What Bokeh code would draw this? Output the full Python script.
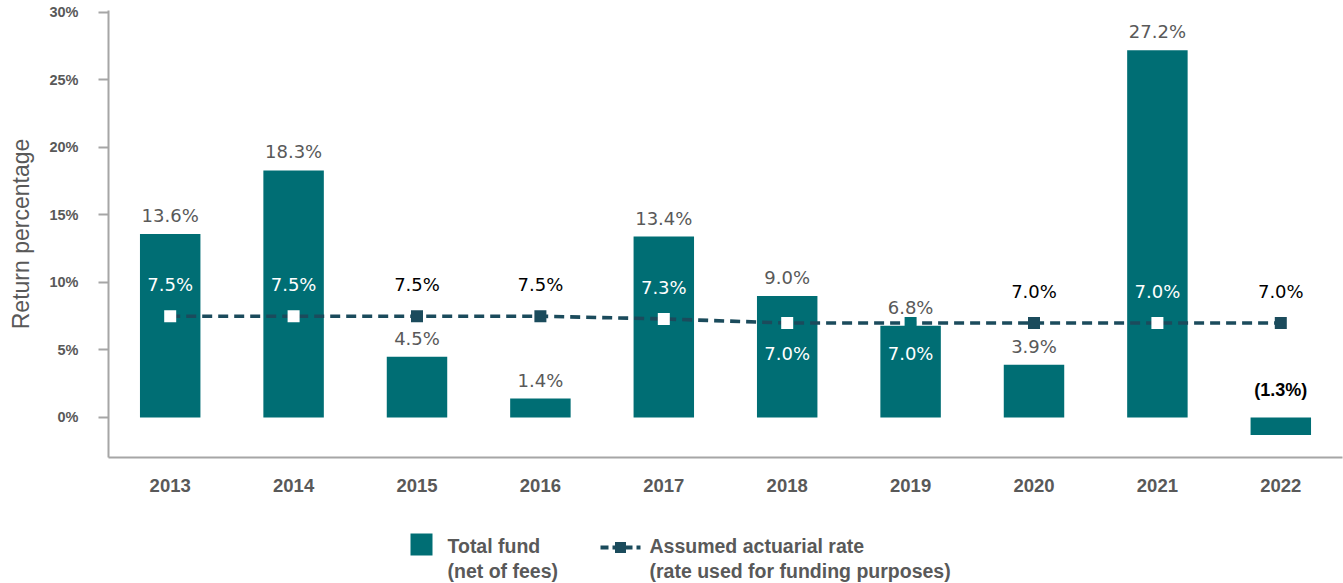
from bokeh.plotting import figure
from bokeh.models import ColumnDataSource, FactorRange, Range1d, FixedTicker
from bokeh.layouts import column
from bokeh.embed import file_html
from bokeh.resources import INLINE
from bokeh.core.properties import value

# ---- data ----
years = ["2013", "2014", "2015", "2016", "2017", "2018", "2019", "2020", "2021", "2022"]
total_fund = [13.6, 18.3, 4.5, 1.4, 13.4, 9.0, 6.8, 3.9, 27.2, -1.3]
assumed_rate = [7.5, 7.5, 7.5, 7.5, 7.3, 7.0, 7.0, 7.0, 7.0, 7.0]
y_ticks = [0, 5, 10, 15, 20, 25, 30]
y_tick_labels = ["0%", "5%", "10%", "15%", "20%", "25%", "30%"]

TEAL = "#006E74"
DARK = "#1B4B5C"
GRAY_TXT = "#595959"
AXIS_GRAY = "#A6A6A6"

# ---- derived label / style columns ----
fund_txt, fund_pos_y, fund_neg_y, neg_txt = [], [], [], []
for v in total_fund:
    if v >= 0:
        fund_txt.append(f"{v:.1f}%")
        fund_pos_y.append(v)
    else:
        neg_txt.append(f"({abs(v):.1f}%)")
        fund_neg_y.append(0)

pos_years = [y for y, v in zip(years, total_fund) if v >= 0]
neg_years = [y for y, v in zip(years, total_fund) if v < 0]

rate_txt, rate_off, rate_col, mk_col = [], [], [], []
for v, r in zip(total_fund, assumed_rate):
    rate_txt.append(f"{r:.1f}%")
    below = (r - 1 < v < r + 4)
    off = 30.5 if below else -31.5
    rate_off.append(off)
    center = r - off / 13.5
    rate_col.append("white" if 0 < center < v else "black")
    if v >= r:
        mk_col.append("white")
    elif v >= r - 0.5:
        mk_col.append(TEAL)
    else:
        mk_col.append(DARK)

src_bar = ColumnDataSource(dict(x=years, top=total_fund))
src_rate = ColumnDataSource(dict(x=years, y=assumed_rate, txt=rate_txt, off=rate_off,
                                 tcol=rate_col, mcol=mk_col))
src_pos = ColumnDataSource(dict(x=pos_years, y=fund_pos_y, txt=fund_txt))
src_neg = ColumnDataSource(dict(x=neg_years, y=fund_neg_y, txt=neg_txt))

p = figure(width=1343, height=505, x_range=FactorRange(*years, range_padding=0),
           y_range=Range1d(-2.963, 30.148), output_backend="svg", toolbar_location=None,
           min_border_left=108, min_border_right=1, min_border_top=10, min_border_bottom=48)
p.outline_line_color = None
p.grid.grid_line_color = None
p.background_fill_color = "white"
p.border_fill_color = "white"

p.vbar(x="x", top="top", bottom=0, width=0.49, source=src_bar, fill_color=TEAL, line_color=None)
p.line(x="x", y="y", source=src_rate, line_color=DARK, line_width=3.6, line_dash="10 6")
p.scatter(x="x", y="y", source=src_rate, marker="square", size=12, fill_color="mcol", line_color=None)

p.text(x="x", y="y", text="txt", source=src_pos, text_align="center", text_baseline="middle",
       y_offset=-18.5, text_font=value("DejaVu Sans"), text_font_size="18px", text_color=GRAY_TXT)
p.text(x="x", y="y", text="txt", source=src_neg, text_align="center", text_baseline="middle",
       y_offset=-27, text_font=value("Liberation Sans"), text_font_size="18px",
       text_font_style="bold", text_color="black")
p.text(x="x", y="y", text="txt", source=src_rate, text_align="center", text_baseline="middle",
       y_offset="off", text_font=value("DejaVu Sans"), text_font_size="18px", text_color="tcol")

# axes
p.yaxis.ticker = FixedTicker(ticks=y_ticks)
p.yaxis.major_label_overrides = {t: l for t, l in zip(y_ticks, y_tick_labels)}
p.yaxis.minor_tick_line_color = None
p.yaxis.major_tick_in = 0
p.yaxis.major_tick_out = 10
p.yaxis.major_tick_line_color = AXIS_GRAY
p.yaxis.major_tick_line_width = 2
p.yaxis.axis_line_color = AXIS_GRAY
p.yaxis.axis_line_width = 2
p.yaxis.major_label_standoff = 20
p.yaxis.major_label_text_font = "Liberation Sans"
p.yaxis.major_label_text_font_style = "bold"
p.yaxis.major_label_text_font_size = "14.5px"
p.yaxis.major_label_text_color = GRAY_TXT
p.yaxis.axis_label = "Return percentage"
p.yaxis.axis_label_text_font = "Liberation Sans"
p.yaxis.axis_label_text_font_style = "normal"
p.yaxis.axis_label_text_font_size = "23px"
p.yaxis.axis_label_text_color = GRAY_TXT
p.yaxis.axis_label_standoff = 12

p.xaxis.major_tick_line_color = None
p.xaxis.minor_tick_line_color = None
p.xaxis.major_tick_out = 0
p.xaxis.axis_line_color = AXIS_GRAY
p.xaxis.axis_line_width = 2
p.xaxis.major_label_standoff = 21
p.xaxis.major_label_text_font = "Liberation Sans"
p.xaxis.major_label_text_font_style = "bold"
p.xaxis.major_label_text_font_size = "18.5px"
p.xaxis.major_label_text_color = GRAY_TXT

# ---- legend figure (its frame is aligned with the main frame, 108..1342 px) ----
leg_labels_1 = ["Total fund", "(net of fees)"]
leg_labels_2 = ["Assumed actuarial rate", "(rate used for funding purposes)"]

q = figure(width=1343, height=78, x_range=Range1d(108, 1342), y_range=Range1d(78, 0),
           output_backend="svg", toolbar_location=None, x_axis_location=None,
           y_axis_location=None, min_border=0)
q.outline_line_color = None
q.grid.grid_line_color = None

q.scatter(x=[421], y=[39], marker="square", size=22, fill_color=TEAL, line_color=None)
q.line(x=[600, 640], y=[42, 42], line_color=DARK, line_width=4, line_dash="8 4")
q.scatter(x=[620], y=[42], marker="square", size=11, fill_color=DARK, line_color=None)
for lbls, x0 in ((leg_labels_1, 447), (leg_labels_2, 649)):
    q.text(x=[x0, x0], y=[40, 65], text=lbls, text_align="left", text_baseline="middle",
           text_font=value("Liberation Sans"), text_font_style="bold",
           text_font_size="19.5px", text_color=GRAY_TXT)

layout = column(p, q, spacing=0)
open("out.html", "w").write(file_html(layout, INLINE))
